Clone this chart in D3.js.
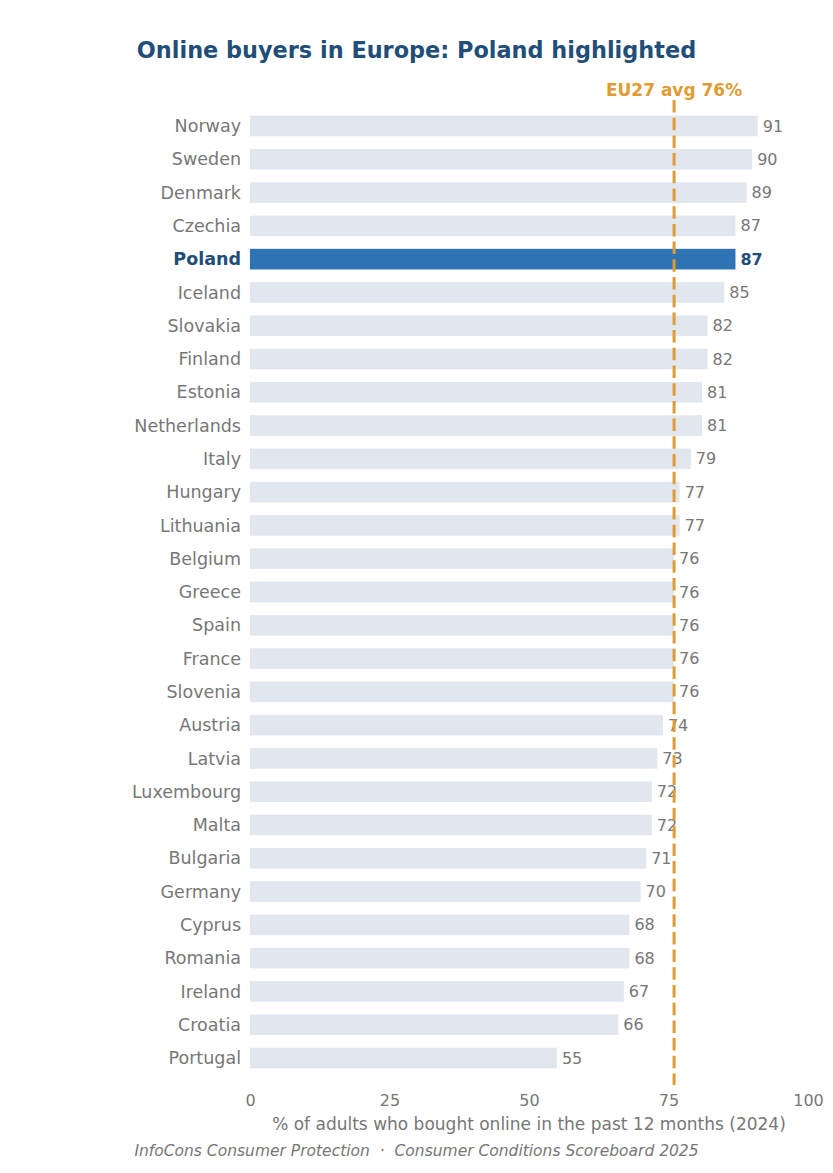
<!DOCTYPE html>
<html>
<head>
<meta charset="utf-8">
<script src="https://cdn.jsdelivr.net/npm/d3@7"></script>
<style>
  body { margin: 0; background: #fff; }
  text { font-family: "DejaVu Sans", sans-serif; }
</style>
</head>
<body>
<svg id="chart" width="833" height="1173"></svg>
<script>
// data
var countries = ["Norway", "Sweden", "Denmark", "Czechia", "Poland", "Iceland", "Slovakia", "Finland",
  "Estonia", "Netherlands", "Italy", "Hungary", "Lithuania", "Belgium", "Greece", "Spain", "France",
  "Slovenia", "Austria", "Latvia", "Luxembourg", "Malta", "Bulgaria", "Germany", "Cyprus", "Romania",
  "Ireland", "Croatia", "Portugal"];
var values = [91, 90, 89, 87, 87, 85, 82, 82, 81, 81, 79, 77, 77, 76, 76, 76, 76, 76, 74, 73, 72, 72,
  71, 70, 68, 68, 67, 66, 55];
var highlight = "Poland";
var euAvg = 76;
var xTicks = [0, 25, 50, 75, 100];

var grey = "#777777";
var navy = "#1f4e79";
var orange = "#e09c33";

var svg = d3.select("#chart");

////////////////////////////////////////////////////////////////////////////////////
// scales
var step = 33.29;
var xScale = d3.scaleLinear().domain([0, 100]).range([250, 808]);
var yScale = d3.scaleBand()
               .domain(countries)
               .range([126 - step / 2, 1058 + step / 2])
               .paddingInner(0.38)
               .paddingOuter(0.19);

// title
svg.append("text")
   .attr("x", 416.5).attr("y", 58)
   .attr("text-anchor", "middle")
   .style("font-size", "22.4px").style("font-weight", "bold")
   .style("fill", navy)
   .text("Online buyers in Europe: Poland highlighted");

////////////////////////////////////////////////////////////////////////////////////
// bars
var rows = countries.map(function(c, i) { return {name: c, value: values[i]}; });

svg.selectAll(".bar")
   .data(rows)
   .enter()
   .append("rect")
   .attr("class", "bar")
   .attr("x", xScale(0))
   .attr("y", function(d) { return yScale(d.name); })
   .attr("width", function(d) { return xScale(d.value) - xScale(0); })
   .attr("height", yScale.bandwidth())
   .style("fill", function(d) { return d.name == highlight ? "#2e73b3" : "#e2e7ef"; });

// country labels
svg.selectAll(".name")
   .data(rows)
   .enter()
   .append("text")
   .attr("class", "name")
   .attr("x", 241)
   .attr("y", function(d) { return yScale(d.name) + yScale.bandwidth() / 2; })
   .attr("dy", "0.35em")
   .attr("text-anchor", "end")
   .style("font-size", "17.5px")
   .style("font-weight", function(d) { return d.name == highlight ? "bold" : "normal"; })
   .style("fill", function(d) { return d.name == highlight ? navy : grey; })
   .text(function(d) { return d.name; });

// value labels
svg.selectAll(".val")
   .data(rows)
   .enter()
   .append("text")
   .attr("class", "val")
   .attr("x", function(d) { return xScale(d.value) + 5; })
   .attr("y", function(d) { return yScale(d.name) + yScale.bandwidth() / 2; })
   .attr("dy", "0.35em")
   .style("font-size", "16px")
   .style("font-weight", function(d) { return d.name == highlight ? "bold" : "normal"; })
   .style("fill", function(d) { return d.name == highlight ? navy : grey; })
   .text(function(d) { return d.value; });

////////////////////////////////////////////////////////////////////////////////////
// EU average line (drawn over the labels)
svg.append("line")
   .attr("x1", xScale(euAvg)).attr("x2", xScale(euAvg))
   .attr("y1", 100).attr("y2", 1085)
   .style("stroke", orange)
   .style("stroke-width", 3)
   .style("stroke-dasharray", "12.5,5.2");

svg.append("text")
   .attr("x", xScale(euAvg)).attr("y", 96)
   .attr("text-anchor", "middle")
   .style("font-size", "17px").style("font-weight", "bold")
   .style("fill", orange)
   .text("EU27 avg " + euAvg + "%");

////////////////////////////////////////////////////////////////////////////////////
// x axis
var xAxis = d3.axisBottom(xScale).tickValues(xTicks).tickSize(0).tickPadding(0);
var gx = svg.append("g")
            .attr("transform", "translate(0,1095)")
            .call(xAxis);
gx.select(".domain").remove();
gx.selectAll("text")
  .style("font-family", "DejaVu Sans, sans-serif")
  .style("font-size", "16px")
  .style("fill", grey);

svg.append("text")
   .attr("x", (xScale(0) + xScale(100)) / 2).attr("y", 1130)
   .attr("text-anchor", "middle")
   .style("font-size", "17px")
   .style("fill", grey)
   .text("% of adults who bought online in the past 12 months (2024)");

// footer
svg.append("text")
   .attr("x", 416.5).attr("y", 1156)
   .attr("text-anchor", "middle")
   .style("white-space", "pre")
   .style("font-size", "15.5px").style("font-style", "italic")
   .style("fill", grey)
   .text("InfoCons Consumer Protection  \u00b7  Consumer Conditions Scoreboard 2025");
</script>
</body>
</html>
